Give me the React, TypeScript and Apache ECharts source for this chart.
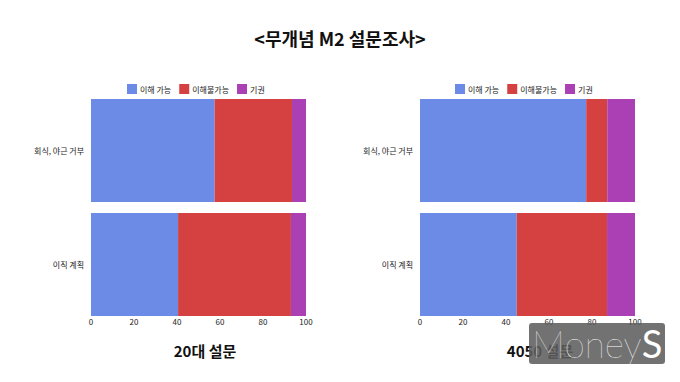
import React, { useEffect, useRef } from "react";
import * as echarts from "echarts";

const categories = ["회식, 야근 거부", "이직 계획"];
const seriesNames = ["이해 가능", "이해불가능", "기권"];
const colors = ["#6b8be6", "#d54141", "#ab3fb4"];
const left20s = [
  [57.5, 40.5],
  [36, 52.5],
  [6.5, 7],
];
const right4050 = [
  [77.3, 45],
  [9.8, 42],
  [12.9, 13],
];

export default function App() {
  const ref = useRef<HTMLDivElement>(null);
  useEffect(() => {
    const chart = echarts.init(ref.current!, null, { renderer: "svg" });
    const font = "'Noto Sans CJK KR', sans-serif";
    const grids = [
      { left: 91, right: 374, top: 93.5, bottom: 60.5 },
      { left: 420, right: 45, top: 93.5, bottom: 60.5 },
    ];
    const mkX = (i: number) => ({
      type: "value",
      gridIndex: i,
      min: 0,
      max: 100,
      interval: 20,
      axisLine: { show: false },
      axisTick: { show: false },
      splitLine: { show: false },
      axisLabel: { fontSize: 8, color: "#222", fontFamily: font, margin: -4 },
    });
    const mkY = (i: number) => ({
      type: "category",
      gridIndex: i,
      data: categories,
      inverse: true,
      axisLine: { show: false },
      axisTick: { show: false },
      axisLabel: { fontSize: 8, color: "#222", fontFamily: font, margin: 7 },
    });
    const series: any[] = [];
    [left20s, right4050].forEach((data, gi) => {
      data.forEach((vals, si) => {
        series.push({
          type: "bar",
          name: seriesNames[si],
          stack: "s" + gi,
          xAxisIndex: gi,
          yAxisIndex: gi,
          data: vals,
          barWidth: 103,
          itemStyle: { color: colors[si] },
        });
      });
    });
    const legendBase = {
      data: seriesNames,
      top: 79,
      itemWidth: 10,
      itemHeight: 10,
      itemGap: 8,
      icon: "rect",
      textStyle: { fontSize: 8, color: "#222", fontFamily: font, padding: [0, 0, 0, -2] },
    };
    chart.setOption({
      animation: false,
      backgroundColor: "#fff",
      title: [
        {
          text: "<무개념 M2 설문조사>",
          left: "center",
          top: 24,
          textStyle: { fontSize: 18, fontWeight: "bold", color: "#111", fontFamily: font },
        },
        {
          text: "20대 설문",
          left: 200,
          top: 338,
          textAlign: "center",
          textStyle: { fontSize: 15, fontWeight: "bold", color: "#111", fontFamily: font },
        },
        {
          text: "4050 설문",
          left: 535,
          top: 338,
          textAlign: "center",
          textStyle: { fontSize: 15, fontWeight: "bold", color: "#111", fontFamily: font },
        },
      ],
      legend: [
        { ...legendBase, left: 122 },
        { ...legendBase, left: 450 },
      ],
      grid: grids,
      xAxis: [mkX(0), mkX(1)],
      yAxis: [mkY(0), mkY(1)],
      series,
      graphic: [
        {
          type: "rect",
          shape: { x: 529, y: 323, width: 136, height: 41, r: 3 },
          style: { fill: "rgba(95,95,95,0.88)" },
          z: 100,
        },
        {
          type: "text",
          x: 532,
          y: 343,
          z: 101,
          style: {
            text: "{a|Money}{b|S}",
            rich: {
              a: {
                fill: "#fff",
                fontSize: 37,
                fontWeight: 200,
                fontFamily: "Lato, 'Open Sans', sans-serif",
              },
              b: {
                fill: "#fff",
                fontSize: 38,
                fontWeight: 400,
                fontFamily: "Lato, 'Open Sans', sans-serif",
              },
            },
            verticalAlign: "middle",
          },
        },
      ],
    });
    return () => chart.dispose();
  }, []);
  return <div ref={ref} style={{ width: 680, height: 382, position: "absolute", left: 0, top: 0 }} />;
}
